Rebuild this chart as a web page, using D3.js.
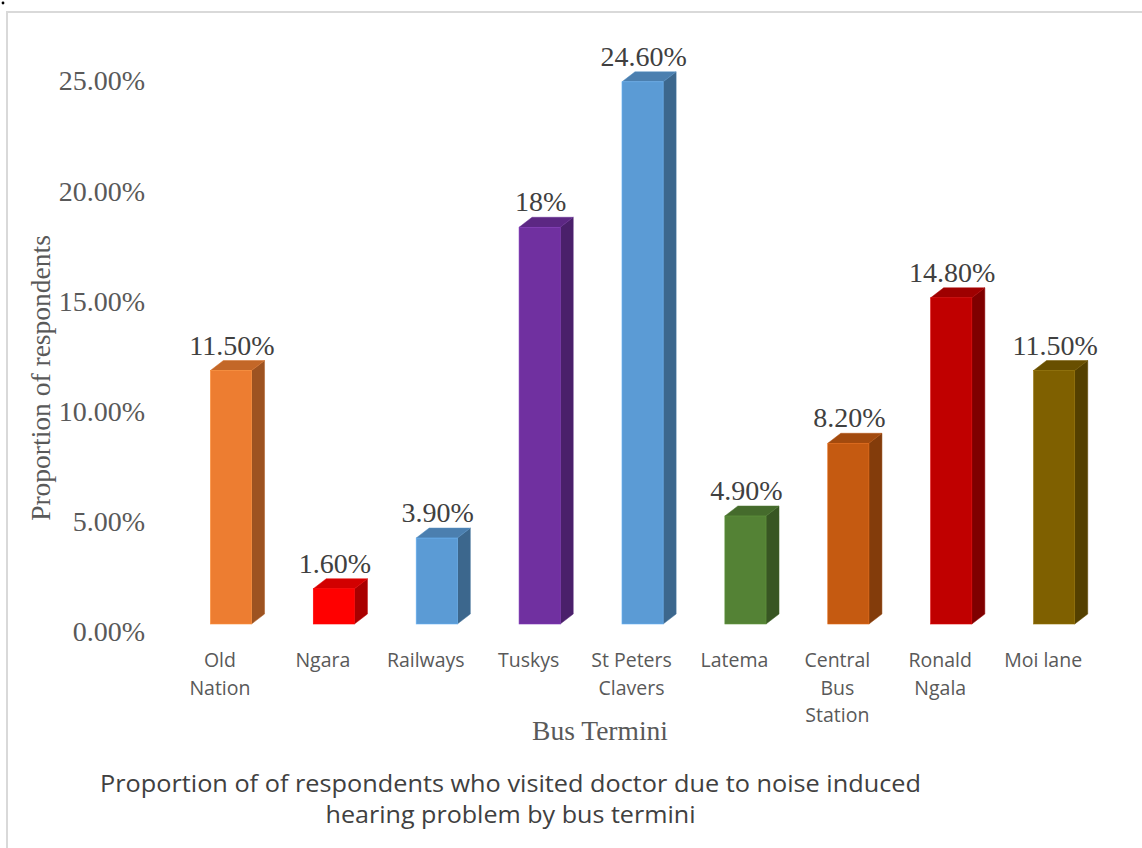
<!DOCTYPE html>
<html>
<head>
<meta charset="utf-8">
<script src="https://cdn.jsdelivr.net/npm/d3@7"></script>
<style>
  html, body { margin: 0; padding: 0; background: #fff; }
  svg { display: block; }
</style>
</head>
<body>
<svg id="chart" width="1142" height="848"></svg>
<script>
// ---- data ----
const categories = [["Old", "Nation"], ["Ngara"], ["Railways"], ["Tuskys"], ["St Peters", "Clavers"], ["Latema"], ["Central", "Bus", "Station"], ["Ronald", "Ngala"], ["Moi lane"]];
const values = [11.5, 1.6, 3.9, 18, 24.6, 4.9, 8.2, 14.8, 11.5];
const valueLabels = ["11.50%", "1.60%", "3.90%", "18%", "24.60%", "4.90%", "8.20%", "14.80%", "11.50%"];
const barColors = ["#ED7D31", "#FF0000", "#5B9BD5", "#7030A0", "#5B9BD5", "#548235", "#C55A11", "#C00000", "#7F6000"];
const yTicks = [0, 5, 10, 15, 20, 25];
const yTitle = "Proportion of respondents";
const xTitle = "Bus Termini";
const captionLines = ["Proportion of of respondents who visited doctor due to noise induced", "hearing problem by bus termini"];

// ---- layout ----
const svg = d3.select("#chart");
svg.append("rect").attr("width", 1142).attr("height", 848).attr("fill", "#fff");
svg.append("rect").attr("x", 7).attr("y", 12).attr("width", 1300).attr("height", 1000)
  .attr("fill", "none").attr("stroke", "#d9d9d9").attr("stroke-width", 2);
svg.append("circle").attr("cx", 3).attr("cy", 3).attr("r", 1.4).attr("fill", "#000");

const keys = categories.map(c => c.join(" "));
const x = d3.scaleBand().domain(keys).range([168.5, 168.5 + 9 * 102.9]).paddingInner(0).paddingOuter(0);
const y = d3.scaleLinear().domain([0, 25]).range([624, 73]);

const depthX = 13, depthY = 10;
const frontW = x.bandwidth() * 0.4;

// y axis tick labels
const yAxis = d3.axisLeft(y).tickValues(yTicks).tickSize(0).tickPadding(0)
  .tickFormat(d => d.toFixed(2) + "%");
const gy = svg.append("g").attr("transform", "translate(145,8)").call(yAxis);
gy.select(".domain").remove();
gy.selectAll("text").attr("font-family", "Liberation Serif").attr("font-size", 28)
  .attr("fill", "#595959");

// bars
const bars = svg.append("g");
values.forEach((v, i) => {
  const c = x(keys[i]) + x.bandwidth() / 2;
  const x0 = c + 11 - frontW / 2, x1 = x0 + frontW;
  const yt = y(v), yb = y(0);
  const base = d3.color(barColors[i]);
  const side = base.darker(1.15);
  const top = base.darker(0.55);
  const g = bars.append("g");
  g.append("path").attr("d", `M${x1},${yt} L${x1 + depthX},${yt - depthY} L${x1 + depthX},${yb - depthY} L${x1},${yb} Z`)
    .attr("fill", side).attr("stroke", side.brighter(0.3)).attr("stroke-width", 0.5);
  g.append("path").attr("d", `M${x0},${yt} L${x0 + depthX},${yt - depthY} L${x1 + depthX},${yt - depthY} L${x1},${yt} Z`)
    .attr("fill", top).attr("stroke", top.brighter(0.3)).attr("stroke-width", 0.5);
  g.append("rect").attr("x", x0).attr("y", yt).attr("width", frontW).attr("height", yb - yt)
    .attr("fill", base).attr("stroke", base.brighter(0.4)).attr("stroke-width", 0.6);
  svg.append("text").attr("x", x0 + frontW / 2 + 1).attr("y", yt - 16)
    .attr("text-anchor", "middle").attr("font-family", "Liberation Serif").attr("font-size", 28)
    .attr("fill", "#404040").text(valueLabels[i]);
});

// category labels
const gx = svg.append("g");
categories.forEach((lines, i) => {
  const c = x(keys[i]) + x.bandwidth() / 2;
  lines.forEach((ln, j) => {
    gx.append("text").attr("x", c).attr("y", 667 + j * 27.5).attr("text-anchor", "middle")
      .attr("font-family", "Open Sans").attr("font-size", 19.5).attr("fill", "#595959").text(ln);
  });
});

// axis titles
svg.append("text").attr("transform", "translate(50,378) rotate(-90)").attr("text-anchor", "middle")
  .attr("font-family", "Liberation Serif").attr("font-size", 27.5).attr("fill", "#595959").text(yTitle);
svg.append("text").attr("x", 600).attr("y", 740).attr("text-anchor", "middle")
  .attr("font-family", "Liberation Serif").attr("font-size", 27.5).attr("fill", "#595959").text(xTitle);

// caption
const capWidths = [821, 370];
captionLines.forEach((ln, j) => {
  svg.append("text").attr("x", 510.5).attr("y", 792 + j * 31).attr("text-anchor", "middle")
    .attr("font-family", "Open Sans").attr("font-size", 23).attr("fill", "#404040")
    .attr("textLength", capWidths[j]).attr("lengthAdjust", "spacingAndGlyphs").text(ln);
});
</script>
</body>
</html>
